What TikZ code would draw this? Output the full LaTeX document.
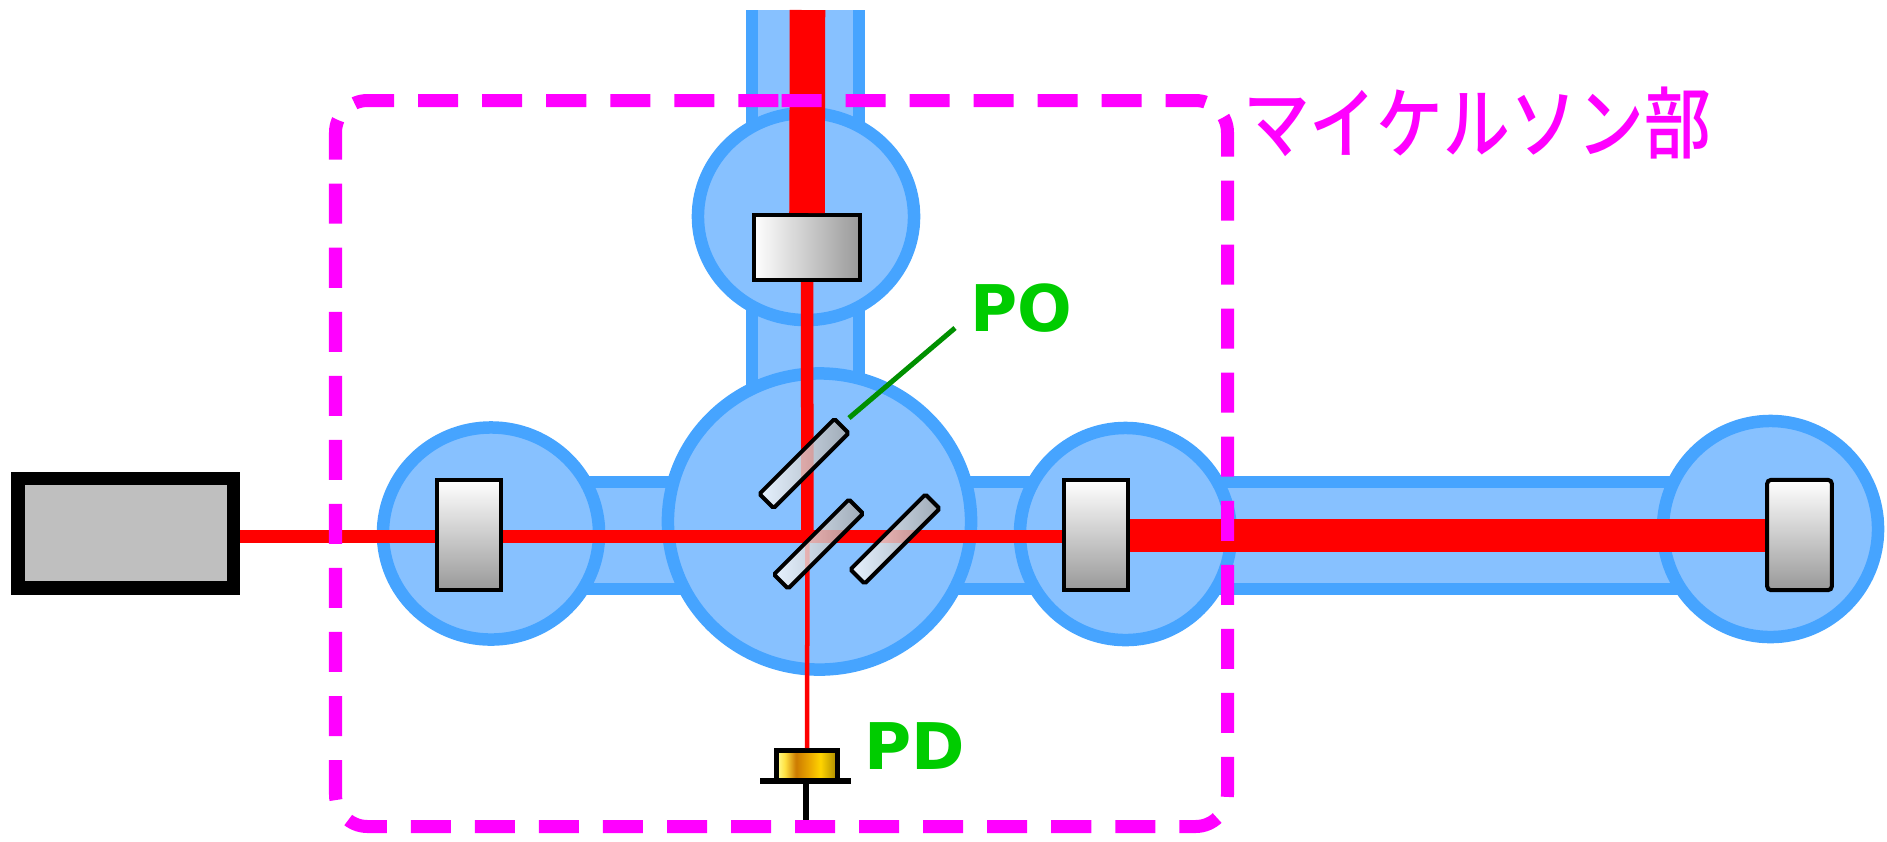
\documentclass[tikz,border=0pt]{standalone}
\usepackage{fontspec}
\usepackage{xcolor}
\usetikzlibrary{shapes.geometric,positioning,calc}
\newfontfamily\cjkfont{Noto Sans CJK JP Medium}
\newfontfamily\tagfont{DejaVu Sans}
\definecolor{Vac}{RGB}{135,193,255}
\definecolor{VacEdge}{RGB}{70,164,255}
\definecolor{Tag}{RGB}{0,204,0}
\definecolor{TagLine}{RGB}{0,144,0}
\definecolor{Frame}{RGB}{255,0,255}
\pgfdeclarehorizontalshading{pdgold}{100bp}{rgb(0bp)=(1,1,.6); rgb(25bp)=(1,1,.6); rgb(32bp)=(1,.88,.25);
  rgb(41bp)=(.8,.48,0); rgb(52bp)=(.92,.66,0); rgb(61bp)=(1,.83,0); rgb(75bp)=(.66,.53,0); rgb(100bp)=(.66,.53,0)}
\tikzset{
  chamber/.style={ellipse,draw=VacEdge,fill=Vac,line width=.125cm,inner sep=0pt},
  tube/.style={draw=VacEdge,line width=.125cm},
  mirror/.style={rectangle,draw=black,line width=.04cm,inner sep=0pt,
                 minimum width=.645cm,minimum height=1.1cm,top color=white,bottom color=black!40},
  splitter/.style={rectangle,draw=black,line width=.04cm,inner sep=0pt,rounded corners=.5pt,rotate=45,
                 minimum width=1.06cm,minimum height=.2cm,left color=white,right color=black!35,fill opacity=.8},
  thinbeam/.style={red,line width=.125cm},
  fatbeam/.style={red,line width=.33cm},
  tag/.style={text=Tag,font=\tagfont\bfseries\fontsize{18.3}{22}\selectfont,inner sep=0pt,anchor=base west},
}
\begin{document}
\begin{tikzpicture}[x=.01cm,y=-.01cm]
    \useasboundingbox (0,0) rectangle (1887,841);
    % vacuum tubes
    \fill[Vac] (752,10) rectangle (859,480);
    \draw[tube] (752,10) -- (752,480);
    \draw[tube] (859,10) -- (859,480);
    \draw[tube,fill=Vac] (490,482) rectangle (1770,589);
    % chambers
    \node[chamber,minimum width=2.16cm,minimum height=2.07cm] (chN) at (806,216.5) {};
    \node[chamber,minimum width=3.03cm,minimum height=2.96cm] (chC) at (819.5,521.5) {};
    \node[chamber,minimum width=2.16cm,minimum height=2.12cm] (chW) at (491,533.5) {};
    \node[chamber,minimum width=2.11cm,minimum height=2.12cm] (chE) at (1125.5,534) {};
    \node[chamber,minimum width=2.15cm,minimum height=2.16cm] (chEnd) at (1770.5,529) {};
    % laser and optics
    \node[rectangle,draw=black,fill=black!25,line width=.135cm,minimum width=2.155cm,minimum height=1.095cm,inner sep=0pt] (laser) at (125.75,533.25) {};
    \node[mirror] (mW) at (469,535) {};
    \node[mirror] (mE) at (1096,535) {};
    \node[mirror,rounded corners=1pt] (mEnd) at (1799.5,535) {};
    \node[mirror,minimum width=1.06cm,minimum height=.65cm,left color=white,right color=black!40] (mN) at (807,247.5) {};
    \coordinate (hub) at (807.5,536.5);
    \coordinate (topEnd) at (807.5,10);
    % beams
    \draw[thinbeam] (laser.east |- hub) -- (mW.west |- hub);
    \draw[thinbeam] (mW.east |- hub) -- (mE.west |- hub);
    \draw[thinbeam] (mN.south) -- (hub);
    \draw[fatbeam] (mE.east) -- (mEnd.west);
    \draw[red,line width=.355cm] (topEnd) -- (mN.north);
    \node[rectangle,draw=black,shading=pdgold,line width=.05cm,minimum width=.61cm,minimum height=.305cm,inner sep=0pt] (pd) at (807,765.75) {};
    \draw[red,line width=.045cm] (hub) -- (pd.north);
    \node[splitter] (bsA) at (804,463.5) {};
    \node[splitter] (bsB) at (818.5,544) {};
    \node[splitter] (bsC) at (895,539) {};
    % photodiode base
    \coordinate (pdBaseL) at (760,781);
    \coordinate (pdBaseR) at (851,781);
    \coordinate (pdStem) at (806,781);
    \coordinate (pdLead) at (806,820);
    \draw[black,line width=.055cm] (pdBaseL) -- (pdBaseR);
    \draw[black,line width=.055cm] (pdStem) -- (pdLead);
    % labels
    \node[tag] (lblPO) at (970,331) {PO};
    \node[tag] (lblPD) at (864,769) {PD};
    \coordinate (poFoot) at (849,418);
    \coordinate (poTip) at (955,328);
    \draw[TagLine,line width=.05cm] (poFoot) -- (poTip);
    % interferometer frame
    \draw[Frame,line width=.13cm,dash pattern=on .4cm off .24cm,rounded corners=.32cm]
      (781.5,100.5) -- (1227.5,100.5) -- (1227.5,826.5) -- (335.5,826.5) -- (335.5,100.5) -- (780.5,100.5);
    \node[text=Frame,font=\cjkfont\fontsize{19}{22}\selectfont,inner sep=0pt] (lblMI) at (1477,123) {\scalebox{1}[1.17]{マイケルソン部}};
\end{tikzpicture}
\end{document}
